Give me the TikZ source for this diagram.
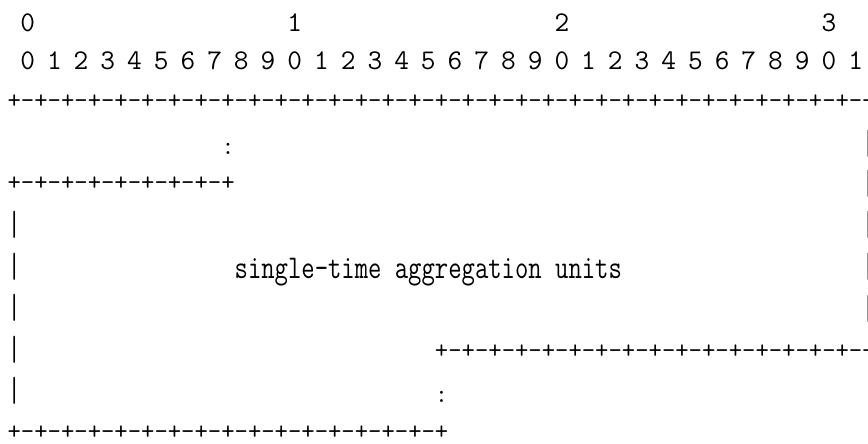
\documentclass[tikz,border=0pt]{standalone}
\usepackage{graphicx}
\newlength\cellw
\tikzset{
  glyph/.style={inner sep=0pt, outer sep=0pt, text=black,
                font=\fontsize{\fsize}{41}\selectfont\ttfamily},
  cell/.style={glyph, anchor=base},
  run/.style={glyph, anchor=base west},
  num/.style={cell, font=\fontsize{\dsize}{41}\selectfont\ttfamily},
  bar/.style={cell},
}
\newcommand{\tallbar}{\scalebox{1}[1.35]{|}}

\begin{document}
% one column = one character cell of 13.355pt
\settowidth{\cellw}{\fontsize{25}{30}\selectfont\ttfamily 0}%
\pgfmathsetmacro{\fsize}{25*13.355/\cellw}%
\pgfmathsetmacro{\dsize}{1.1*\fsize}%
\begin{tikzpicture}[x=13.355pt, y=-1pt]
  \useasboundingbox (-14.3pt,0pt) rectangle (853.7pt,-444pt);

  % bit numbers
  \foreach \d in {0,...,3}
    \node[num] (dec\d) at ({20*\d+1},31.5) {\d};
  \foreach \i in {0,...,31} {
    \pgfmathtruncatemacro{\d}{mod(\i,10)}
    \node[num] (bit\i) at ({2*\i+1},70) {\d};
  }

  % rules
  \node[run] (toprule) at (-0.5,109)
    {+-+-+-+-+-+-+-+-+-+-+-+-+-+-+-+-+-+-+-+-+-+-+-+-+-+-+-+-+-+-+-+-+};
  \node[cell] (topdots) at (16,154) {:};
  \node[run] (firstrule) at (-0.5,190.5) {+-+-+-+-+-+-+-+-+};
  \node[run] (label) at (16.5,278)
    {\scalebox{1}[1.28]{single-time aggregation units}};
  \node[run] (lastrule) at (31.5,358) {+-+-+-+-+-+-+-+-+-+-+-+-+-+-+-+-+};
  \node[cell] (botdots) at (32,402) {:};
  \node[run] (botrule) at (-0.5,439) {+-+-+-+-+-+-+-+-+-+-+-+-+-+-+-+-+};

  % side bars
  \foreach \r/\b in {4/154,5/194,6/235.5,7/277,8/319}
    \node[bar, xshift=-1pt, text=black!45] (rbar\r) at (64,\b) {\tallbar};
  \foreach \r/\b in {6/235.5,7/277,8/318.5,9/360,10/401.5}
    \node[bar] (lbar\r) at (0,\b) {\tallbar};
\end{tikzpicture}
\end{document}
